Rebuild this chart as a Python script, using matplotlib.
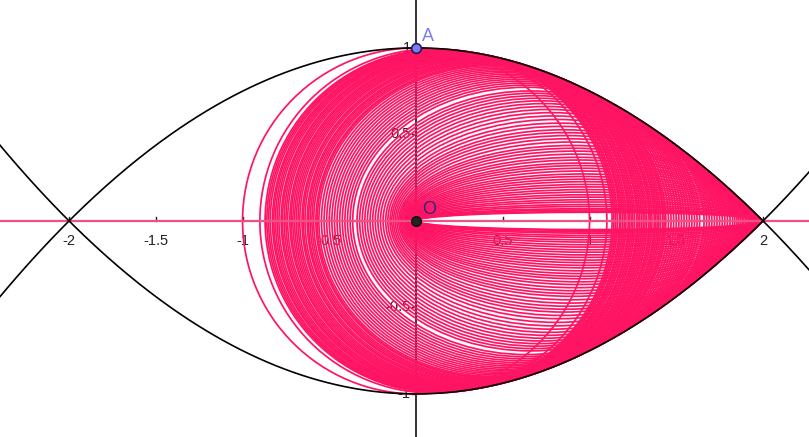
import matplotlib
matplotlib.use("Agg")
import matplotlib.pyplot as plt
from matplotlib.patches import Ellipse
import numpy as np

# ellipses with foci O=(0,0) and F=(f,0), major semi-axis 1 (traced in geogebra)
focus_x = [0.0, 0.2, 0.26, 0.28, 0.30, 0.32, 0.345, 0.36, 0.38, 0.40, 0.42,
           0.445, 0.46, 0.48, 0.50, 0.52, 0.545, 0.56, 0.58, 0.60, 0.62, 0.64,
           0.66, 0.685, 0.70, 0.72, 0.745, 0.76, 0.78, 0.80, 0.82, 0.845, 0.86,
           0.88, 0.91, 0.94, 0.97, 1.00, 1.03, 1.06, 1.09, 1.12, 1.15, 1.18,
           1.21, 1.24, 1.27, 1.32, 1.35, 1.38, 1.41, 1.44, 1.47, 1.50, 1.53,
           1.56, 1.59, 1.62, 1.65, 1.675, 1.70, 1.72, 1.74, 1.76, 1.78, 1.80,
           1.815, 1.83, 1.845, 1.86, 1.872, 1.885, 1.895, 1.905, 1.915, 1.925,
           1.933, 1.941, 1.948, 1.955, 1.961, 1.967, 1.972, 1.977, 1.981,
           1.985, 1.988, 1.991, 1.993, 1.995, 1.996, 1.997, 1.9975]
semi_major = 1.0

# bounding parabolas y = +-(1 - x^2/4)
par_vertex = 1.0
par_focal = 4.0

x_ticks = [-2, -1.5, -1, -0.5, 0.5, 1, 1.5, 2]
x_tick_labels = ["-2", "-1.5", "-1", "-0.5", "0.5", "1", "1.5", "2"]
y_ticks = [1, 0.5, -0.5, -1]
y_tick_labels = ["1", "0.5", "-0.5", "-1"]

PINK = "#ff1464"
AXIS_PINK = "#f0508a"

fig = plt.figure(figsize=(8.09, 4.37), dpi=100)
ax = fig.add_axes([0, 0, 1, 1])
ax.set_xlim(-2.398, 2.265)
ax.set_ylim(-1.249, 1.277)
ax.axis("off")

# tick labels sit under the traces, like in geogebra
for xt, lab in zip(x_ticks, x_tick_labels):
    ax.text(xt, -0.075, lab, ha="center", va="top", fontsize=10.5,
            family="Liberation Sans", color="#222222", zorder=1)
    ax.plot([xt, xt], [0, 0.025], color="#222222", lw=1, zorder=1)
for yt, lab in zip(y_ticks, y_tick_labels):
    ax.text(-0.03, yt, lab, ha="right", va="center", fontsize=10.5,
            family="Liberation Sans", color="#222222", zorder=1)
    ax.plot([-0.025, 0], [yt, yt], color="#222222", lw=1, zorder=1)
ax.text(-0.03, 0.04, "0", ha="right", va="bottom", fontsize=10.5,
        family="Liberation Sans", color="#222222", zorder=1)

ax.axvline(0, color="#333333", lw=1.4, zorder=1.5)

for f in focus_x:
    b = np.sqrt(semi_major**2 - (f / 2) ** 2)
    ax.add_patch(Ellipse((f / 2, 0), 2 * semi_major, 2 * b, fill=False,
                         edgecolor=PINK, lw=1.25, zorder=2))

ax.axhline(0, color=AXIS_PINK, lw=1.6, zorder=3)

xs = np.linspace(-2.5, 2.5, 400)
ys = par_vertex - xs**2 / par_focal
ax.plot(xs, ys, color="black", lw=1.2, zorder=4)
ax.plot(xs, -ys, color="black", lw=1.2, zorder=4)

ax.plot(0, 1, "o", ms=7, mfc="#7b7bf5", mec="#1f1f4f", mew=1.2, zorder=5)
ax.text(0.035, 1.04, "A", fontsize=13, family="Liberation Sans",
        color="#7b7bf5", zorder=5)
ax.plot(0, 0, "o", ms=7, mfc="#222222", mec="#111111", zorder=5)
ax.text(0.035, 0.04, "O", fontsize=13, family="Liberation Sans",
        color="#2b2b7a", zorder=5)

fig.savefig("out.png", dpi=100)
